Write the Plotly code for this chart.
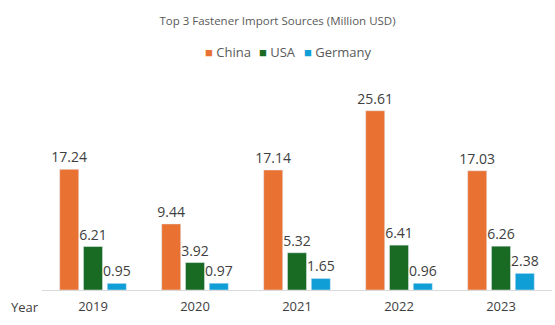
import plotly.graph_objects as go

years = ["2019", "2020", "2021", "2022", "2023"]
china = [17.24, 9.44, 17.14, 25.61, 17.03]
usa = [6.21, 3.92, 5.32, 6.41, 6.26]
germany = [0.95, 0.97, 1.65, 0.96, 2.38]

series = [("China", china, "#E97132"), ("USA", usa, "#196B24"), ("Germany", germany, "#0F9ED5")]

fig = go.Figure()
for name, vals, col in series:
    fig.add_trace(go.Bar(
        x=years, y=vals, name=name, marker_color=col, showlegend=False,
        text=[f"{v:.2f}" for v in vals], textposition="outside", constraintext="none",
        textfont=dict(size=14, color="#404040"), cliponaxis=False,
    ))

W, H = 555, 325
L, R, T, B = 42, 3, 80, 35
pw, ph = W - L - R, H - T - B

def px(x):
    return (x - L) / pw

def py(y):
    return (H - B - y) / ph

legend_items = [("China", "#E97132", 203), ("USA", "#196B24", 257), ("Germany", "#0F9ED5", 302)]
ann = []
for name, col, x0 in legend_items:
    ann.append(dict(text=f"<span style='color:{col}'>■</span> {name}", x=px(x0), y=py(52),
                    xref="paper", yref="paper", xanchor="left", yanchor="middle", showarrow=False,
                    font=dict(size=13, color="#595959")))
ann.append(dict(text="Year", x=px(9), y=py(307), xref="paper", yref="paper", xanchor="left",
                yanchor="middle", showarrow=False, font=dict(size=13, color="#404040")))

fig.update_layout(
    width=W, height=H,
    margin=dict(l=L, r=R, t=T, b=B),
    paper_bgcolor="white", plot_bgcolor="white",
    font=dict(family="Open Sans, sans-serif", color="#595959", size=13),
    title=dict(text="Top 3 Fastener Import Sources (Million USD)", x=0.5, xanchor="center",
               y=1 - 21 / H, yanchor="middle", font=dict(size=11.5, color="#595959")),
    showlegend=False,
    barmode="group", bargap=0.3, bargroupgap=0.2,
    xaxis=dict(showline=True, linecolor="#D9D9D9", linewidth=1, ticks="", ticklabelstandoff=4,
               tickfont=dict(size=13, color="#404040")),
    yaxis=dict(visible=False, range=[0, 30]),
    annotations=ann,
)
fig.write_html("out.html")
